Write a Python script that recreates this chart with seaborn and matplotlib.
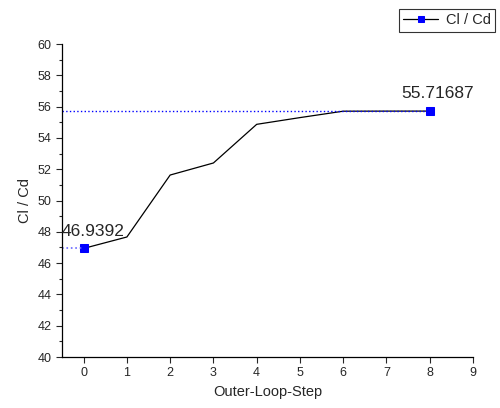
import matplotlib
matplotlib.use("Agg")
import matplotlib.pyplot as plt
import seaborn as sns
import pandas as pd
from matplotlib.ticker import MultipleLocator

steps = [0, 1, 2, 3, 4, 5, 6, 7, 8]
cl_cd = [46.9392, 47.67, 51.63, 52.40, 54.87, 55.30, 55.71, 55.715, 55.71687]
x_ticks = [0, 1, 2, 3, 4, 5, 6, 7, 8, 9]
y_ticks = [40, 42, 44, 46, 48, 50, 52, 54, 56, 58, 60]

df = pd.DataFrame({"step": steps, "cl_cd": cl_cd})

sns.set_style("ticks")
plt.rcParams["font.family"] = ["Liberation Sans", "DejaVu Sans"]

fig = plt.figure(figsize=(5, 4.08), dpi=100)
ax = fig.add_axes([0.124, 0.125, 0.822, 0.767])

sns.lineplot(data=df, x="step", y="cl_cd", ax=ax, color="black", linewidth=0.9,
             marker="s", markersize=6, markerfacecolor="blue", markeredgecolor="blue",
             markevery=[0, len(steps) - 1], label="Cl / Cd")

# dotted guide lines from y axis to first/last points
ax.plot([-0.5, steps[0]], [cl_cd[0], cl_cd[0]], color="#6666ff", linestyle=":", linewidth=1.2)
ax.plot([-0.5, steps[-1]], [cl_cd[-1], cl_cd[-1]], color="blue", linestyle=":", linewidth=1.0)

ax.annotate(f"{cl_cd[0]}", (steps[0], cl_cd[0]), xytext=(7, 7), textcoords="offset points",
            ha="center", va="bottom", fontsize=12.5)
ax.annotate(f"{cl_cd[-1]}", (steps[-1], cl_cd[-1]), xytext=(6, 7), textcoords="offset points",
            ha="center", va="bottom", fontsize=12.5)

ax.set_xlim(-0.5, 9)
ax.set_ylim(40, 60)
ax.set_xticks(x_ticks)
ax.set_yticks(y_ticks)
ax.yaxis.set_minor_locator(MultipleLocator(1))
ax.tick_params(axis="both", which="major", direction="out", length=4, width=0.8, labelsize=9)
ax.tick_params(axis="y", which="minor", direction="out", length=2, width=0.8)
sns.despine(ax=ax)
for sp in ["left", "bottom"]:
    ax.spines[sp].set_linewidth(0.9)
    ax.spines[sp].set_color("black")

ax.set_xlabel("Outer-Loop-Step", fontsize=10.5)
ax.set_ylabel("Cl / Cd", fontsize=10.5)

leg = ax.legend(loc="upper right", bbox_to_anchor=(0.99, 0.978), bbox_transform=fig.transFigure,
                frameon=True, fancybox=False, fontsize=10.5, handlelength=2.4,
                borderpad=0.3, handletextpad=0.5, borderaxespad=0)
leg.get_frame().set_edgecolor("black")
leg.get_frame().set_linewidth(0.8)
leg.legend_handles[0].set_markersize(5)

fig.savefig("out.png", dpi=100)
